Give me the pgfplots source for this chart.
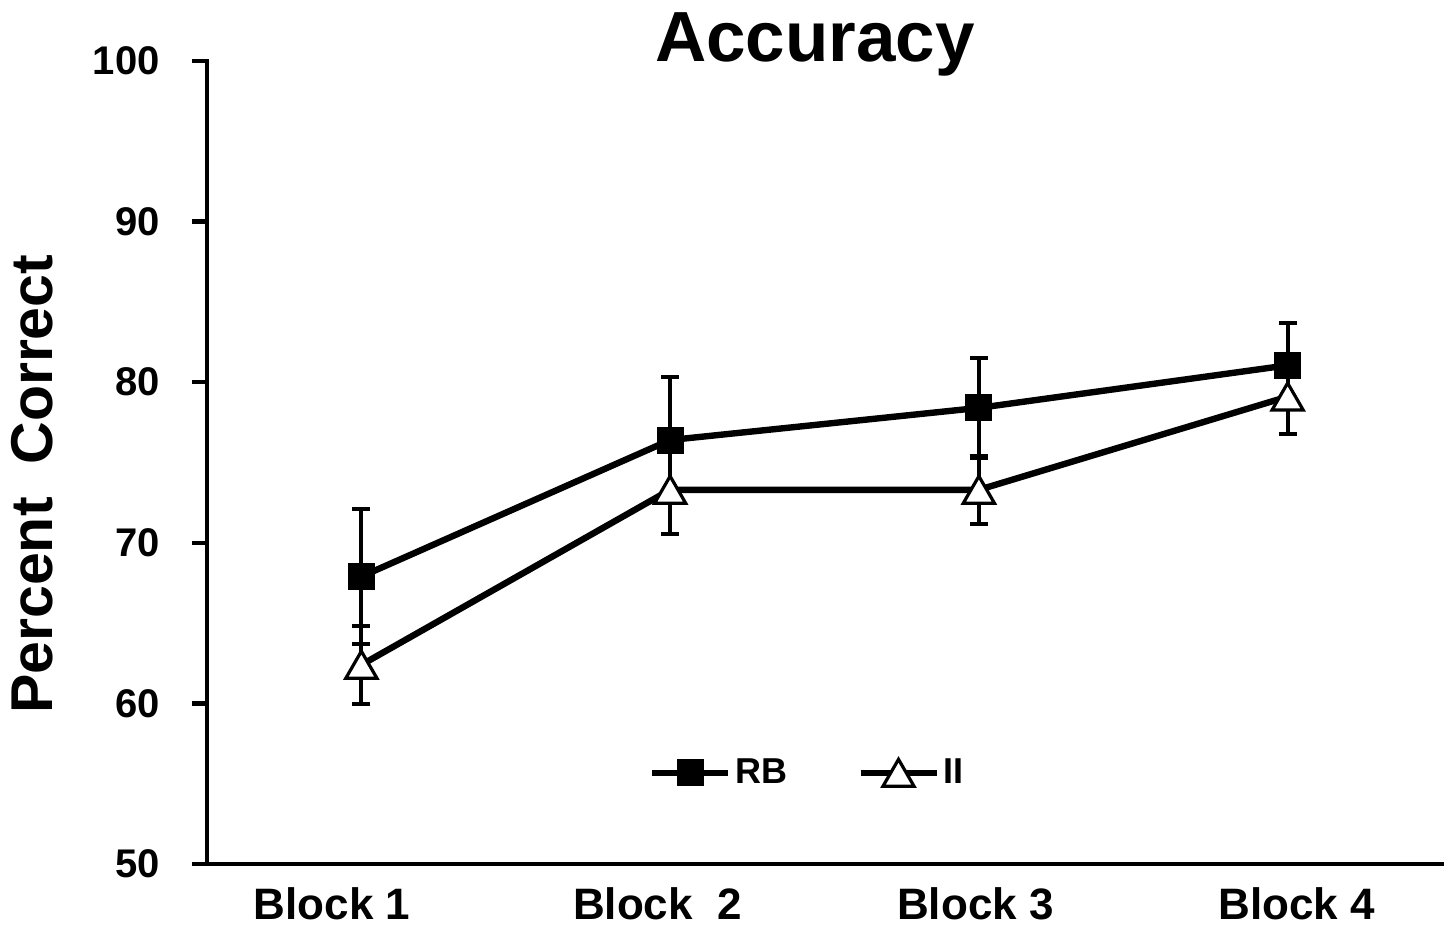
\documentclass[border=0pt]{standalone}
\usepackage{pgfplots}
\pgfplotsset{compat=1.18}
\usepackage{fontspec}
\setmainfont{Liberation Sans}
\begin{document}
\begin{tikzpicture}[x=1pt,y=1pt]
\path[use as bounding box] (-103.5,-32) rectangle (622,432);
\begin{axis}[
  at={(0,0)}, anchor=south west,
  scale only axis, width=617.5pt, height=401.5pt,
  xmin=0.5, xmax=4.5, ymin=50, ymax=100,
  axis lines=left,
  axis line style={-, line width=2.2pt, line cap=rect},
  ytick={50,60,70,80,90,100},
  tick align=outside, major tick length=7.5pt,
  y tick style={line width=2.2pt, black},
  xtick={0.905,1.959,2.989,4.03},
  xticklabels={Block 1, Block\ \ 2, Block 3, Block 4},
  x tick style={draw=none},
  /pgf/number format/assume math mode=true,
  yticklabel style={font=\fontsize{20}{24}\selectfont\bfseries, anchor=east, inner sep=0pt, xshift=-16pt},
  xticklabel style={font=\fontsize{22}{26}\selectfont\bfseries, anchor=base, inner sep=0pt, yshift=-20pt},
  title={Accuracy},
  title style={at={(axis description cs:0.4923,0.9975)}, anchor=base, inner sep=0pt,
               yshift=-5pt, font=\fontsize{35.5}{40}\selectfont\bfseries},
  ylabel={Percent\ \ Correct},
  ylabel style={at={(axis description cs:0,0.473)}, anchor=base, inner sep=0pt,
                yshift=77pt, font=\fontsize{29.5}{34}\selectfont\bfseries},
  legend columns=2,
  legend style={at={(axis cs:1.93,55.67)}, anchor=west, draw=none, fill=none,
                inner sep=0pt, font=\fontsize{18}{22}\selectfont\bfseries,
                nodes={inner sep=2pt},
                /tikz/every even column/.append style={column sep=33pt}},
  legend image code/.code={%
    \draw[#1, mark repeat=2, mark phase=2]
      plot coordinates {(0pt,0pt) (19pt,0pt) (38pt,0pt)};},
  legend cell align=left,
  clip=false,
]
% RB condition
\addplot[black, line width=3.2pt, mark=square*, mark size=6.5pt,
         mark options={fill=black, line width=0.5pt},
         error bars/.cd, y dir=both, y explicit,
         error bar style={line width=2pt, black},
         error mark options={rotate=90, mark size=4.5pt, line width=2pt, black},
         ]
  coordinates {
    (1,67.9)  +- (0,4.2)
    (2,76.4)  +- (0,3.95)
    (3,78.4)  +- (0,3.1)
    (4,81.05) +- (0,2.65)
  };
\addlegendentry{RB}
% II condition (triangles centred on their bounding box)
\addplot[black, line width=3.2pt, mark=triangle*, mark size=9pt,
         mark options={fill=white, line width=1.6pt, yshift=-2.2pt},
         error bars/.cd, y dir=both, y explicit,
         error bar style={line width=2pt, black},
         error mark options={rotate=90, mark size=4.5pt, line width=2pt, black, yshift=0pt},
         ]
  coordinates {
    (1,62.4)  +- (0,2.45)
    (2,73.3)  +- (0,2.75)
    (3,73.3)  +- (0,2.1)
    (4,79.1)  +- (0,2.3)
  };
\addlegendentry{II}
\end{axis}
\end{tikzpicture}
\end{document}
